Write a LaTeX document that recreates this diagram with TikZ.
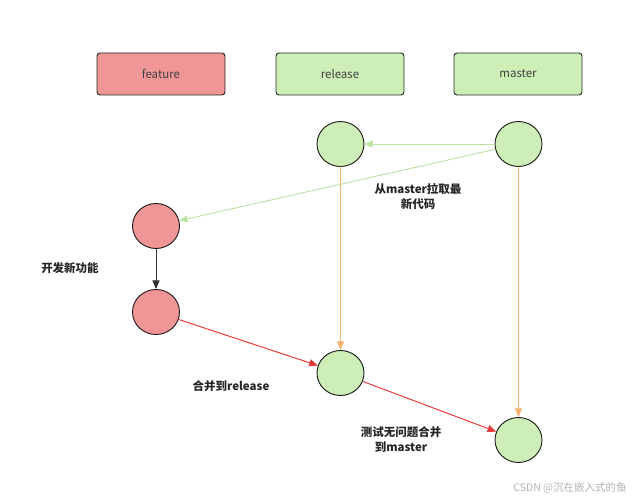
\documentclass[tikz,border=0pt]{standalone}
\usepackage{fontspec}
\setmainfont{Noto Sans CJK SC}
\usetikzlibrary{arrows}
\usetikzlibrary{shapes.geometric}
\definecolor{featfill}{RGB}{241,150,150}
\definecolor{relfill}{RGB}{205,238,182}
\definecolor{pullline}{RGB}{185,228,160}
\definecolor{mainline}{RGB}{247,178,110}
\definecolor{mergeline}{RGB}{232,60,60}
\definecolor{devline}{RGB}{50,50,50}
\begin{document}
\begin{tikzpicture}[line cap=round,line join=round,>=triangle 45,x=1pt,y=-1pt,
  branch/.style={draw=black!85,line width=0.9pt,rounded corners=3pt,minimum width=128pt,minimum height=42pt,inner sep=0pt,font=\fontsize{11.5}{13}\selectfont,text=black!75},
  commit/.style={ellipse,draw=black!90,line width=0.9pt,minimum width=47pt,minimum height=45pt,inner sep=0pt},
  note/.style={font=\bfseries\fontsize{11.5}{15}\selectfont,align=center,text=black!85}]
\useasboundingbox (0,0) rectangle (632,500);
% branch labels
\node[branch,fill=featfill] (feature) at (161,74) {feature};
\node[branch,fill=relfill] (release) at (340,74) {release};
\node[branch,fill=relfill] (master) at (518,74) {master};
% commits
\node[commit,fill=relfill] (r1) at (340.5,144) {};
\node[commit,fill=relfill] (m1) at (518.5,144) {};
\node[commit,fill=featfill] (f1) at (156,226) {};
\node[commit,fill=featfill] (f2) at (156,312) {};
\node[commit,fill=relfill] (r2) at (340.5,373) {};
\node[commit,fill=relfill] (m2) at (518.5,440) {};
% connectors
\draw[->,color=pullline,line width=0.9pt] (m1) -- (r1);
\draw[->,color=pullline,line width=0.9pt] (m1) -- (f1);
\draw[->,color=devline,line width=1pt] (f1) -- (f2);
\draw[->,color=mergeline,line width=1pt] (f2) -- (r2);
\draw[->,color=mergeline,line width=1pt] (r2) -- (m2);
\draw[->,color=mainline,line width=1pt] (r1) -- (r2);
\draw[->,color=mainline,line width=1pt] (m1) -- (m2);
% notes
\node[note] (pull) at (418,197) {从master拉取最\\新代码};
\node[note] (dev) at (70,268) {开发新功能};
\node[note] (merge1) at (231,386) {合并到release};
\node[note] (merge2) at (401,440) {测试无问题合并\\到master};
\node[font=\fontsize{10.5}{12}\selectfont,text=black!30] (mark) at (570,488) {CSDN @沉在嵌入式的鱼};
\end{tikzpicture}
\end{document}
